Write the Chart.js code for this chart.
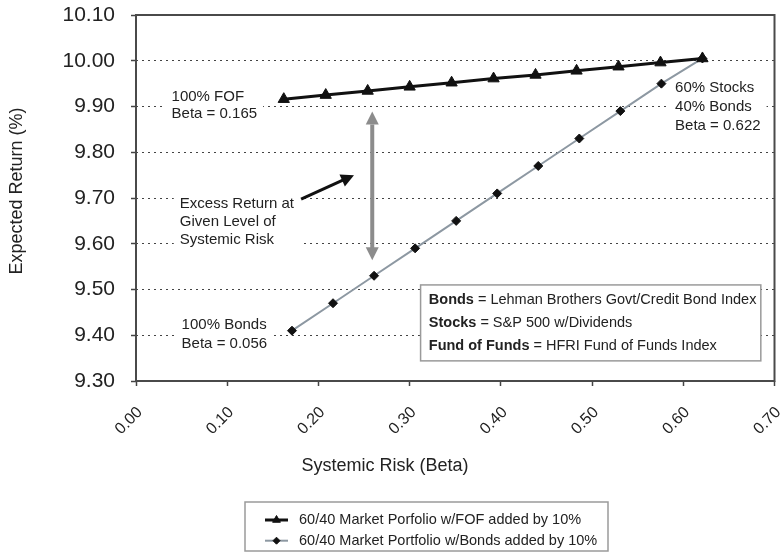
<!DOCTYPE html>
<html>
<head>
<meta charset="utf-8">
<title>Expected Return vs Systemic Risk</title>
<script src="https://cdn.jsdelivr.net/npm/chart.js@4.4.1/dist/chart.umd.min.js"></script>
<style>
  html, body { margin: 0; padding: 0; background: #fff; }
  #wrap { width: 782px; height: 552px; }
</style>
</head>
<body>
<div id="wrap"><canvas id="riskChart" width="782" height="552"></canvas></div>
<script>
// legend names
const seriesNames = [
    '60/40 Market Porfolio w/FOF added by 10%',
    '60/40 Market Portfolio w/Bonds added by 10%'
];

// 60/40 portfolio, fund of funds added in 10% steps
const fofBeta   = [0.162, 0.208, 0.254, 0.300, 0.346, 0.392, 0.438, 0.483, 0.529, 0.575, 0.621];
const fofReturn = [9.916, 9.925, 9.934, 9.943, 9.952, 9.961, 9.969, 9.978, 9.987, 9.996, 10.005];

// 60/40 portfolio, bonds added in 10% steps
const bondBeta   = [0.171, 0.216, 0.261, 0.306, 0.351, 0.396, 0.441, 0.486, 0.531, 0.576, 0.621];
const bondReturn = [9.41, 9.47, 9.53, 9.59, 9.65, 9.71, 9.77, 9.83, 9.89, 9.95, 10.005];

// axis ticks
const xTicks = [0.00, 0.10, 0.20, 0.30, 0.40, 0.50, 0.60, 0.70];
const yTicks = [9.30, 9.40, 9.50, 9.60, 9.70, 9.80, 9.90, 10.00, 10.10];

const xTitle = 'Systemic Risk (Beta)';
const yTitle = 'Expected Return (%)';

// text notes inside the plot (anchored in beta / return units)
const noteLabels = [
    { x: 0.039, y: 9.913,  lh: 17.5, lines: ['100% FOF', 'Beta = 0.165'] },
    { x: 0.050, y: 9.4135, lh: 19,   lines: ['100% Bonds', 'Beta = 0.056'] },
    { x: 0.048, y: 9.6775, lh: 18,   lines: ['Excess Return at', 'Given Level of', 'Systemic Risk'] },
    { x: 0.591, y: 9.9323, lh: 19,   lines: ['60% Stocks', '40% Bonds', 'Beta = 0.622'] }
];

const sourceNotes = [
    ['Bonds', ' = Lehman Brothers Govt/Credit Bond Index'],
    ['Stocks', ' = S&P 500 w/Dividends'],
    ['Fund of Funds', ' = HFRI Fund of Funds Index']
];

const arrowNotes = [
    { from: [0.259, 9.889], to: [0.259, 9.564], both: true,  color: '#8c8c8c', width: 4 },
    { from: [0.181, 9.6975], to: [0.239, 9.750], both: false, color: '#111111', width: 3 }
];

const chartFont = '"Liberation Sans", Arial, sans-serif';
const textColor = '#222';

function toPixel(chart, bx, ry) {
    return {
        x: chart.scales.x.getPixelForValue(bx),
        y: chart.scales.y.getPixelForValue(ry)
    };
}

function arrowHead(ctx, fx, fy, tx, ty, len, half) {
    const a = Math.atan2(ty - fy, tx - fx);
    ctx.beginPath();
    ctx.moveTo(tx, ty);
    ctx.lineTo(tx - len * Math.cos(a) + half * Math.sin(a), ty - len * Math.sin(a) - half * Math.cos(a));
    ctx.lineTo(tx - len * Math.cos(a) - half * Math.sin(a), ty - len * Math.sin(a) + half * Math.cos(a));
    ctx.closePath();
    ctx.fill();
}

// Notes, arrows, frame, source box, legend and axis titles
const riskNotesPlugin = {
    id: 'riskNotes',
    beforeDatasetsDraw(chart) {
        const { ctx, chartArea } = chart;
        ctx.save();

        // white patches behind the notes so the dotted grid breaks round them
        ctx.font = '15px ' + chartFont;
        noteLabels.forEach(n => {
            const p = toPixel(chart, n.x, n.y);
            const w = Math.max(...n.lines.map(l => ctx.measureText(l).width));
            ctx.fillStyle = '#fff';
            ctx.fillRect(p.x - 6, p.y - 15, w + 12, n.lh * (n.lines.length - 1) + 21);
        });

        // source box
        const b1 = toPixel(chart, 0.312, 9.510);
        const b2 = toPixel(chart, 0.685, 9.344);
        ctx.fillStyle = '#fff';
        ctx.fillRect(b1.x, b1.y, b2.x - b1.x, b2.y - b1.y);
        ctx.strokeStyle = '#9a9a9a';
        ctx.lineWidth = 1.5;
        ctx.strokeRect(b1.x, b1.y, b2.x - b1.x, b2.y - b1.y);

        // plot frame
        ctx.strokeStyle = '#4a4a4a';
        ctx.lineWidth = 2;
        ctx.strokeRect(chartArea.left, chartArea.top, chartArea.width, chartArea.height);
        ctx.restore();
    },
    afterDatasetsDraw(chart) {
        const { ctx } = chart;
        ctx.save();

        // note texts
        ctx.font = '15px ' + chartFont;
        ctx.fillStyle = textColor;
        ctx.textAlign = 'left';
        ctx.textBaseline = 'alphabetic';
        noteLabels.forEach(n => {
            const p = toPixel(chart, n.x, n.y);
            n.lines.forEach((l, i) => ctx.fillText(l, p.x, p.y + i * n.lh));
        });

        // arrows
        arrowNotes.forEach(a => {
            const f = toPixel(chart, a.from[0], a.from[1]);
            const t = toPixel(chart, a.to[0], a.to[1]);
            const ang = Math.atan2(t.y - f.y, t.x - f.x);
            const head = 13;
            const sx = a.both ? f.x + Math.cos(ang) * head : f.x;
            const sy = a.both ? f.y + Math.sin(ang) * head : f.y;
            ctx.strokeStyle = a.color;
            ctx.fillStyle = a.color;
            ctx.lineWidth = a.width;
            ctx.beginPath();
            ctx.moveTo(sx, sy);
            ctx.lineTo(t.x - Math.cos(ang) * (head - 2), t.y - Math.sin(ang) * (head - 2));
            ctx.stroke();
            arrowHead(ctx, f.x, f.y, t.x, t.y, head, 6.5);
            if (a.both) arrowHead(ctx, t.x, t.y, f.x, f.y, head, 6.5);
        });

        // source box text
        const s = toPixel(chart, 0.321, 9.510);
        sourceNotes.forEach((row, i) => {
            const y = s.y + 19 + i * 23;
            ctx.fillStyle = textColor;
            ctx.font = 'bold 14.5px ' + chartFont;
            ctx.fillText(row[0], s.x, y);
            const w = ctx.measureText(row[0]).width;
            ctx.font = '14.5px ' + chartFont;
            ctx.fillText(row[1], s.x + w, y);
        });

        // axis titles
        ctx.font = '18px ' + chartFont;
        ctx.fillStyle = textColor;
        ctx.textAlign = 'center';
        ctx.textBaseline = 'middle';
        ctx.fillText(xTitle, 385, 466);
        ctx.save();
        ctx.translate(17, 191);
        ctx.rotate(-Math.PI / 2);
        ctx.fillText(yTitle, 0, 0);
        ctx.restore();

        // legend
        ctx.strokeStyle = '#9a9a9a';
        ctx.lineWidth = 1.5;
        ctx.strokeRect(245, 502, 363, 49);
        ctx.font = '14.5px ' + chartFont;
        ctx.textAlign = 'left';
        chart.data.datasets.forEach((ds, i) => {
            const y = 520 + i * 20.7;
            ctx.strokeStyle = ds.borderColor;
            ctx.lineWidth = ds.borderWidth;
            ctx.beginPath();
            ctx.moveTo(265, y);
            ctx.lineTo(288, y);
            ctx.stroke();
            ctx.fillStyle = ds.pointBackgroundColor;
            ctx.strokeStyle = ds.pointBorderColor;
            ctx.lineWidth = 1;
            Chart.helpers.drawPoint(ctx, {
                pointStyle: ds.pointStyle,
                radius: i === 0 ? 4.5 : 3.5,
                rotation: 0,
                borderWidth: 1
            }, 276.5, y);
            ctx.fillStyle = textColor;
            ctx.fillText(ds.label, 299, y);
        });
        ctx.restore();
    }
};

Chart.defaults.font.family = chartFont;
Chart.defaults.color = textColor;

const riskChart = new Chart(document.getElementById('riskChart'), {
    type: 'scatter',
    data: {
        datasets: [
            {
                label: seriesNames[0],
                data: fofBeta.map((b, i) => ({ x: b, y: fofReturn[i] })),
                showLine: true,
                borderColor: '#111111',
                borderWidth: 3,
                pointStyle: 'triangle',
                pointRadius: 6.5,
                pointBackgroundColor: '#111111',
                pointBorderColor: '#111111',
                pointBorderWidth: 1
            },
            {
                label: seriesNames[1],
                data: bondBeta.map((b, i) => ({ x: b, y: bondReturn[i] })),
                showLine: true,
                borderColor: '#8d98a2',
                borderWidth: 2,
                pointStyle: 'rectRot',
                pointRadius: 4.5,
                pointBackgroundColor: '#111111',
                pointBorderColor: '#111111',
                pointBorderWidth: 1
            }
        ]
    },
    options: {
        responsive: false,
        animation: false,
        layout: { padding: { left: 0, top: 15, right: 5, bottom: 0 } },
        plugins: {
            legend: { display: false },
            tooltip: { enabled: false }
        },
        scales: {
            x: {
                type: 'linear',
                min: 0,
                max: 0.7,
                afterBuildTicks: scale => { scale.ticks = xTicks.map(v => ({ value: v })); },
                afterFit: scale => {
                    scale.height = 171;
                    scale.paddingLeft = 0;
                    scale.paddingRight = 0;
                },
                ticks: {
                    font: { size: 16 },
                    color: textColor,
                    minRotation: 45,
                    maxRotation: 45,
                    padding: 17,
                    labelOffset: 4,
                    callback: v => Number(v).toFixed(2)
                },
                grid: { drawOnChartArea: false, tickLength: 5, tickColor: '#444', tickWidth: 1.5 },
                border: { display: false }
            },
            y: {
                min: 9.3,
                max: 10.1,
                afterBuildTicks: scale => { scale.ticks = yTicks.map(v => ({ value: v })); },
                afterFit: scale => {
                    scale.width = 136;
                    scale.paddingTop = 0;
                    scale.paddingBottom = 0;
                },
                ticks: {
                    font: { size: 21 },
                    color: textColor,
                    padding: 16,
                    callback: v => Number(v).toFixed(2)
                },
                grid: { color: '#444', lineWidth: 1, tickLength: 5, tickColor: '#444', tickWidth: 1.5, tickBorderDash: [] },
                border: { display: false, dash: [2, 4] }
            }
        }
    },
    plugins: [riskNotesPlugin]
});
</script>
</body>
</html>
